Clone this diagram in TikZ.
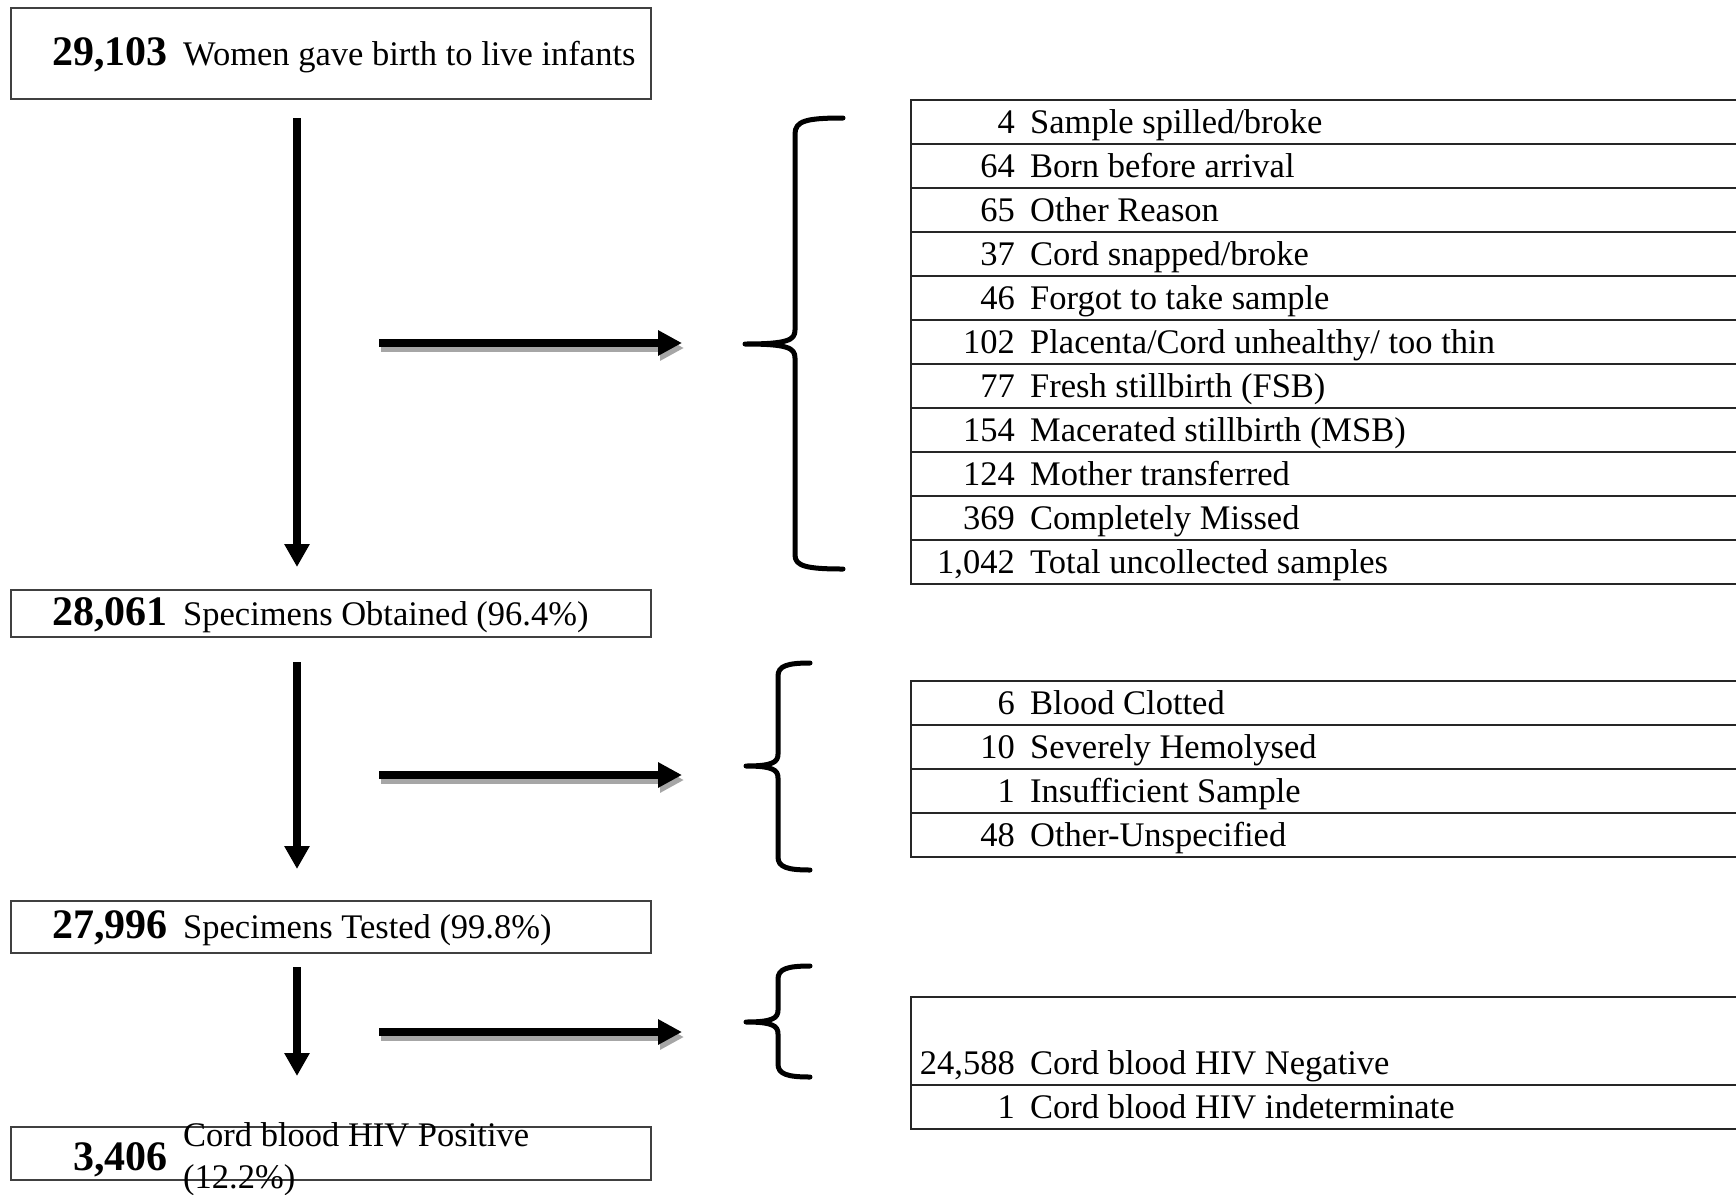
\documentclass[tikz,border=0pt]{standalone}
\usepackage{fontspec}
\setmainfont{Liberation Serif}
\usetikzlibrary{arrows.meta}

\begin{document}
\begin{tikzpicture}
  [x=1pt,y=-1pt,
  font=\fontsize{34.5}{42}\selectfont,
  box/.style={draw=black!75,line width=2pt,minimum width=640pt,inner sep=0pt},
  big/.style={anchor=base east,inner sep=0pt,font=\fontsize{42}{48}\selectfont\bfseries},
  txt/.style={anchor=base west,inner sep=0pt},
  num/.style={anchor=base east,inner sep=0pt},
  row/.style={draw=black!85,line width=2pt,anchor=north west,minimum width=840pt,inner sep=0pt},
  down/.style={line width=8pt,-{Triangle[length=23pt,width=24pt]}},
  across/.style={line width=8pt,-{Triangle[length=24pt,width=24pt]}},
  shade/.style={draw=black!35,transform canvas={shift={(2pt,-5pt)}}},
  brace/.style={line width=5pt,line cap=round,line join=round}]

  \useasboundingbox (0,0) rectangle (1736,1194);

  % left column
  \node (born) [box,minimum height=91pt] at (331,53.5) {};
  \node (bornN) [big] at (168,65) {29,103};
  \node (bornT) [txt] at (183,65) {Women gave birth to live infants};

  \node (obt) [box,minimum height=47pt] at (331,613.5) {};
  \node (obtN) [big] at (168,625) {28,061};
  \node (obtT) [txt] at (183,625) {Specimens Obtained (96.4\%)};

  \node (tst) [box,minimum height=52pt] at (331,927) {};
  \node (tstN) [big] at (168,938.5) {27,996};
  \node (tstT) [txt] at (183,938.5) {Specimens Tested (99.8\%)};

  \node (pos) [box,minimum height=53pt] at (331,1153.5) {};
  \node (posN) [big] at (168,1170) {3,406};
  \node (posT) [txt] at (183,1146) {Cord blood HIV Positive};
  \node (posP) [txt] at (183,1188) {(12.2\%)};

  \coordinate (d1a) at (297,118);
  \coordinate (d1b) at (297,567);
  \coordinate (d2a) at (297,662);
  \coordinate (d2b) at (297,869);
  \coordinate (d3a) at (297,967);
  \coordinate (d3b) at (297,1076);

  \draw [down] (d1a) -- (d1b);
  \draw [down] (d2a) -- (d2b);
  \draw [down] (d3a) -- (d3b);

  % side arrows
  \coordinate (h1a) at (379,343);
  \coordinate (h1b) at (682,343);
  \coordinate (h2a) at (379,775);
  \coordinate (h2b) at (682,775);
  \coordinate (h3a) at (379,1032);
  \coordinate (h3b) at (682,1032);

  \draw [across,shade] (h1a) -- (h1b);
  \draw [across,shade] (h2a) -- (h2b);
  \draw [across,shade] (h3a) -- (h3b);
  \draw [across] (h1a) -- (h1b);
  \draw [across] (h2a) -- (h2b);
  \draw [across] (h3a) -- (h3b);

  % braces
  \draw [brace] (843,118) .. controls (806,118) and (795,121) .. (795,134)
    -- (795,330) .. controls (795,340) and (788,344) .. (745,344)
    .. controls (788,344) and (795,348) .. (795,358)
    -- (795,555) .. controls (795,566) and (806,569) .. (843,569);
  \draw [brace] (810,663) .. controls (787,663) and (778,666) .. (778,676)
    -- (778,754) .. controls (778,762) and (773,766) .. (746,766)
    .. controls (773,766) and (778,770) .. (778,778)
    -- (778,857) .. controls (778,867) and (787,870) .. (810,870);
  \draw [brace] (810,966) .. controls (787,966) and (778,969) .. (778,979)
    -- (778,1010) .. controls (778,1018) and (773,1022) .. (746,1022)
    .. controls (773,1022) and (778,1026) .. (778,1034)
    -- (778,1064) .. controls (778,1074) and (787,1077) .. (810,1077);

  % uncollected
  \foreach \n/\t [count=\i from 0] in
    {{4}/{Sample spilled/broke},{64}/{Born before arrival},{65}/{Other Reason},
     {37}/{Cord snapped/broke},{46}/{Forgot to take sample},
     {102}/{Placenta/Cord unhealthy/ too thin},{77}/{Fresh stillbirth (FSB)},
     {154}/{Macerated stillbirth (MSB)},{124}/{Mother transferred},
     {369}/{Completely Missed},{1,042}/{Total uncollected samples}}
  {
    \node (miss\i) [row,minimum height=44pt] at (910,98.5+44*\i) {};
    \node (missN\i) [num] at (1015,133+44*\i) {\n};
    \node (missT\i) [txt] at (1030,133+44*\i) {\t};
  }

  % rejected
  \foreach \n/\t [count=\i from 0] in
    {{6}/{Blood Clotted},{10}/{Severely Hemolysed},{1}/{Insufficient Sample},
     {48}/{Other-Unspecified}}
  {
    \node (rej\i) [row,minimum height=44pt] at (910,680+44*\i) {};
    \node (rejN\i) [num] at (1015,714.5+44*\i) {\n};
    \node (rejT\i) [txt] at (1030,714.5+44*\i) {\t};
  }

  % results
  \node (neg) [row,minimum height=88pt] at (910,996) {};
  \node (negN) [num] at (1015,1074) {24,588};
  \node (negT) [txt] at (1030,1074) {Cord blood HIV Negative};
  \node (ind) [row,minimum height=44pt] at (910,1084) {};
  \node (indN) [num] at (1015,1118.5) {1};
  \node (indT) [txt] at (1030,1118.5) {Cord blood HIV indeterminate};

\end{tikzpicture}
\end{document}
